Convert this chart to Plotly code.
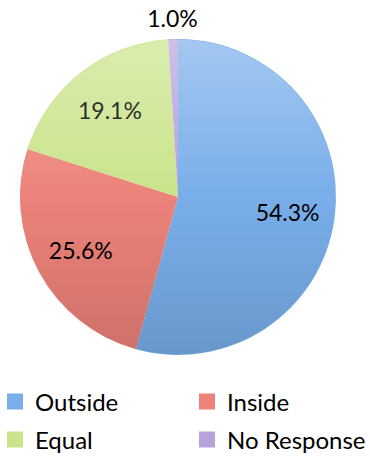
import base64
import plotly.graph_objects as go

# Survey responses
categories = ["Outside", "Inside", "Equal", "No Response"]
shares = [54.3, 25.6, 19.1, 1.0]
slice_colors = ["#79AEEA", "#EC8279", "#C9E48A", "#B7A2DC"]
# which share is printed inside the slices, and which one above the pie
inner_labels = [True, True, True, False]

W, H = 370, 460
VAL = "%{value:.1f}%"


def dom(cx, cy, r):
    """Paper-fraction domain of a pie centred at (cx, cy) px with radius r px."""
    return dict(x=[(cx - r) / W, (cx + r) / W], y=[1 - (cy + r) / H, 1 - (cy - r) / H])


pie_cx, pie_cy, pie_r = 178, 197, 158
pie_dom = dom(pie_cx, pie_cy, pie_r)

# One single-entry legend per swatch, laid out as a 2x2 grid (left px, centre-y px)
legend_ids = ["legend", "legend2", "legend3", "legend4"]
legend_spots = [(-5, 402), (187, 402), (-5, 440), (187, 440)]

# Soft vertical shading laid over the pie: lighter at the top, darker at the bottom
shade_svg = (
    '<svg xmlns="http://www.w3.org/2000/svg" width="316" height="316" viewBox="0 0 316 316">'
    '<defs><linearGradient id="g" x1="0" y1="0" x2="0" y2="1">'
    '<stop offset="0" stop-color="#ffffff" stop-opacity="0.32"/>'
    '<stop offset="0.5" stop-color="#ffffff" stop-opacity="0"/>'
    '<stop offset="0.5" stop-color="#000000" stop-opacity="0"/>'
    '<stop offset="1" stop-color="#000000" stop-opacity="0.13"/>'
    '</linearGradient></defs>'
    '<circle cx="158" cy="158" r="157.5" fill="url(#g)"/>'
    '</svg>'
)
shade_src = "data:image/svg+xml;base64," + base64.b64encode(shade_svg.encode()).decode()

pie_common = dict(
    labels=categories,
    values=shares,
    sort=False,
    direction="clockwise",
    rotation=0,
    textfont=dict(family="Lato", size=23, color="#000000"),
    insidetextorientation="horizontal",
    showlegend=False,
)

fig = go.Figure()

# The coloured pie itself
fig.add_trace(
    go.Pie(
        **pie_common,
        marker=dict(colors=slice_colors, line=dict(width=0)),
        textinfo="none",
        domain=pie_dom,
        hoverinfo="label+percent",
    )
)

# Transparent ring carrying the inner share labels further out from the centre
fig.add_trace(
    go.Pie(
        **pie_common,
        hole=0.4,
        marker=dict(colors=["rgba(0,0,0,0)"] * len(shares), line=dict(width=0)),
        texttemplate=[VAL if keep else "" for keep in inner_labels],
        textposition="inside",
        domain=pie_dom,
        hoverinfo="skip",
    )
)

# Thin transparent ring just outside the pie for the small share's label
fig.add_trace(
    go.Pie(
        **pie_common,
        hole=0.985,
        marker=dict(colors=["rgba(0,0,0,0)"] * len(shares), line=dict(width=0)),
        texttemplate=["" if keep else VAL for keep in inner_labels],
        textposition="inside",
        domain=dom(pie_cx, 195, 178),
        hoverinfo="skip",
    )
)

# Legend swatches
for name, color, lid in zip(categories, slice_colors, legend_ids):
    fig.add_trace(
        go.Scatter(
            x=[None],
            y=[None],
            mode="markers",
            name=name,
            marker=dict(symbol="square", size=16, color=color),
            legend=lid,
            hoverinfo="skip",
        )
    )

legend_layout = {}
for lid, (left_px, mid_px) in zip(legend_ids, legend_spots):
    legend_layout[lid] = dict(
        orientation="h",
        x=left_px / W,
        xanchor="left",
        y=1 - mid_px / H,
        yanchor="middle",
        font=dict(family="Lato", size=24, color="#000000"),
        itemsizing="trace",
        bgcolor="rgba(0,0,0,0)",
    )

fig.update_layout(
    width=W,
    height=H,
    margin=dict(l=0, r=0, t=0, b=0, autoexpand=False),
    paper_bgcolor="white",
    plot_bgcolor="white",
    font=dict(family="Lato", color="#000000"),
    uniformtext=dict(minsize=23, mode="show"),
    xaxis=dict(visible=False),
    yaxis=dict(visible=False),
    images=[
        dict(
            source=shade_src,
            xref="paper",
            yref="paper",
            x=pie_dom["x"][0],
            y=pie_dom["y"][1],
            sizex=pie_dom["x"][1] - pie_dom["x"][0],
            sizey=pie_dom["y"][1] - pie_dom["y"][0],
            xanchor="left",
            yanchor="top",
            sizing="stretch",
            layer="above",
        )
    ],
    **legend_layout,
)

fig.write_html("out.html")
